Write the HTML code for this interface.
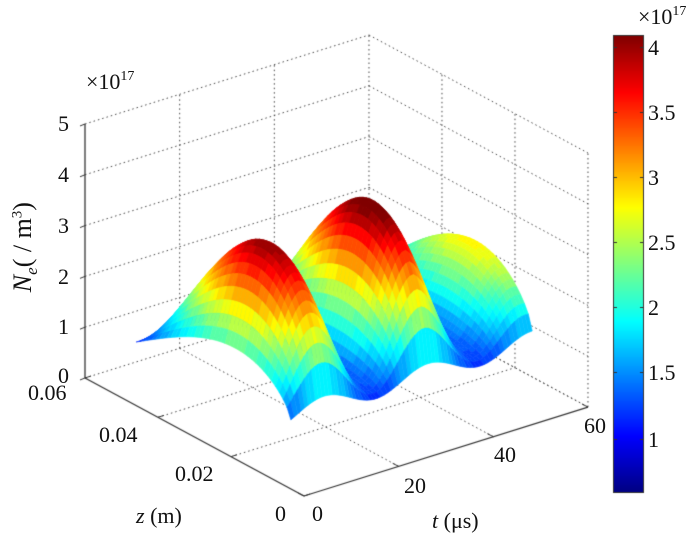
<!DOCTYPE html>
<html><head><meta charset="utf-8"><style>
html,body{margin:0;padding:0;background:#fff;width:700px;height:539px;overflow:hidden}
.t{position:absolute;font-family:"Liberation Serif",serif;font-size:22px;color:#111;white-space:nowrap;line-height:1}
</style></head><body>
<canvas id="c" width="700" height="539" style="position:absolute;left:0;top:0"></canvas>
<div class="t" style="left:86px;top:70px;font-size:22px">×10<sup style="font-size:14px;vertical-align:9px">17</sup></div>
<div class="t" style="left:58px;top:113px">5</div>
<div class="t" style="left:58px;top:164px">4</div>
<div class="t" style="left:58px;top:215px">3</div>
<div class="t" style="left:58px;top:266px">2</div>
<div class="t" style="left:58px;top:316px">1</div>
<div class="t" style="left:58px;top:365px">0</div>
<div class="t" style="left:28px;top:382px">0.06</div>
<div class="t" style="left:99px;top:424px">0.04</div>
<div class="t" style="left:175px;top:463px">0.02</div>
<div class="t" style="left:275px;top:503px">0</div>
<div class="t" style="left:312px;top:503px">0</div>
<div class="t" style="left:404px;top:475px">20</div>
<div class="t" style="left:494px;top:444px">40</div>
<div class="t" style="left:584px;top:415px">60</div>
<div class="t" style="left:136px;top:505px"><i>z</i> (m)</div>
<div class="t" style="left:432px;top:510px"><i>t</i> (μs)</div>
<div class="t" style="left:-40px;top:232px;font-size:26px;transform:rotate(-90deg);width:130px;text-align:center"><i>N<sub style="font-size:17px">e</sub></i>( / m<sup style="font-size:15px">3</sup>)</div>
<div class="t" style="left:648px;top:37px">4</div>
<div class="t" style="left:648px;top:102px">3.5</div>
<div class="t" style="left:648px;top:167px">3</div>
<div class="t" style="left:648px;top:232px">2.5</div>
<div class="t" style="left:648px;top:297px">2</div>
<div class="t" style="left:648px;top:362px">1.5</div>
<div class="t" style="left:648px;top:429px">1</div>
<div class="t" style="left:638px;top:5px;font-size:22px">×10<sup style="font-size:14px;vertical-align:9px">17</sup></div>
<script>
var c=document.getElementById('c'),g=c.getContext('2d');
function P(t,z,h){return [304+4.733*t-3650*z,496-1.483*t-1967*z-50.8*h];}
function jet(v){v=Math.max(0,Math.min(1,v));
 function f(x){return Math.max(0,Math.min(1,1.5-Math.abs(x)));}
 var r=f(4*v-3),gg=f(4*v-2),b=f(4*v-1);
 return 'rgb('+Math.round(r*255)+','+Math.round(gg*255)+','+Math.round(b*255)+')';}
function line(a,b,dash,w){g.beginPath();g.setLineDash(dash?[1.5,3]:[]);g.lineWidth=w||1;g.strokeStyle=dash?'#444':'#333';g.moveTo(a[0],a[1]);g.lineTo(b[0],b[1]);g.stroke();}
for(var h=0;h<=5;h++){line(P(0,.06,h),P(60,.06,h),true);line(P(60,.06,h),P(60,0,h),true);}
[20,40,60].forEach(function(t){line(P(t,.06,0),P(t,.06,5),true);line(P(t,0,0),P(t,.06,0),true);});
[0.04,0.02,0].forEach(function(z){line(P(60,z,0),P(60,z,5),true);});
[0.02,0.04].forEach(function(z){line(P(0,z,0),P(60,z,0),true);});
line(P(0,.06,0),P(0,.06,5),false,1.3);
line(P(0,.06,0),P(0,0,0),false,1.3);
line(P(0,0,0),P(60,0,0),false,1.3);
for(h=0;h<=5;h++){var p=P(0,.06,h);line(p,[p[0]-5,p[1]+2]);}
[0.06,0.04,0.02,0].forEach(function(z){var p=P(0,z,0);line(p,[p[0]+6,p[1]-2]);});
[0,20,40,60].forEach(function(t){var p=P(t,0,0);line(p,[p[0]-6,p[1]-3]);});
var z0=0.0036,z1=0.046,T1=51,NT=70,NZ=40;
function lerp(pts,t){for(var i=0;i<pts.length-1;i++){if(t<=pts[i+1][0]){var a=pts[i],b=pts[i+1];return a[1]+(b[1]-a[1])*(t-a[0])/(b[0]-a[0]);}}return pts[pts.length-1][1];}
function amp(t){return lerp([[0,2.5],[7,2.6],[29,2.8],[51,1.35]],t);}
function H(t,z){var q=(z-z0)/(z1-z0);var S=Math.sin(Math.PI*Math.pow(Math.max(q,0),0.68));
 var cw=(1+Math.cos(2*Math.PI*(t-7)/22))/2;
 var W=0.2+amp(t)*cw;var F=(1-q);
 return 1.2+S*W+F*0.37*cw*(1-S)+0.05;}
var quads=[];
for(var i=0;i<NT;i++)for(var j=0;j<NZ;j++){
 var ta=T1*i/NT,tb=T1*(i+1)/NT,za=z0+(z1-z0)*j/NZ,zb=z0+(z1-z0)*(j+1)/NZ;
 var hs=[H(ta,za),H(tb,za),H(tb,zb),H(ta,zb)];
 quads.push({d:(ta+tb)/120+(za+zb)/0.12,p:[P(ta,za,hs[0]),P(tb,za,hs[1]),P(tb,zb,hs[2]),P(ta,zb,hs[3])],v:(hs[0]+hs[1]+hs[2]+hs[3])/4});}
quads.sort(function(a,b){return b.d-a.d;});
g.setLineDash([]);
quads.forEach(function(q){var col=jet((Math.round(q.v*12)/12-0.67)/3.43);
 g.beginPath();g.moveTo(q.p[0][0],q.p[0][1]);for(var k=1;k<4;k++)g.lineTo(q.p[k][0],q.p[k][1]);g.closePath();
 g.fillStyle=col;g.strokeStyle=col;g.lineWidth=0.6;g.fill();g.stroke();});
for(var y=35;y<493;y++){g.fillStyle=jet((493-y)/458);g.fillRect(613,y,31,1);}
g.setLineDash([]);g.strokeStyle='#333';g.lineWidth=1;g.strokeRect(613.5,35.5,30,457);
[47.5,112.5,177.5,242.5,307.5,372.5,439.5].forEach(function(y){line([613,y],[617,y]);line([644,y],[640,y]);});
</script>
</body></html>
